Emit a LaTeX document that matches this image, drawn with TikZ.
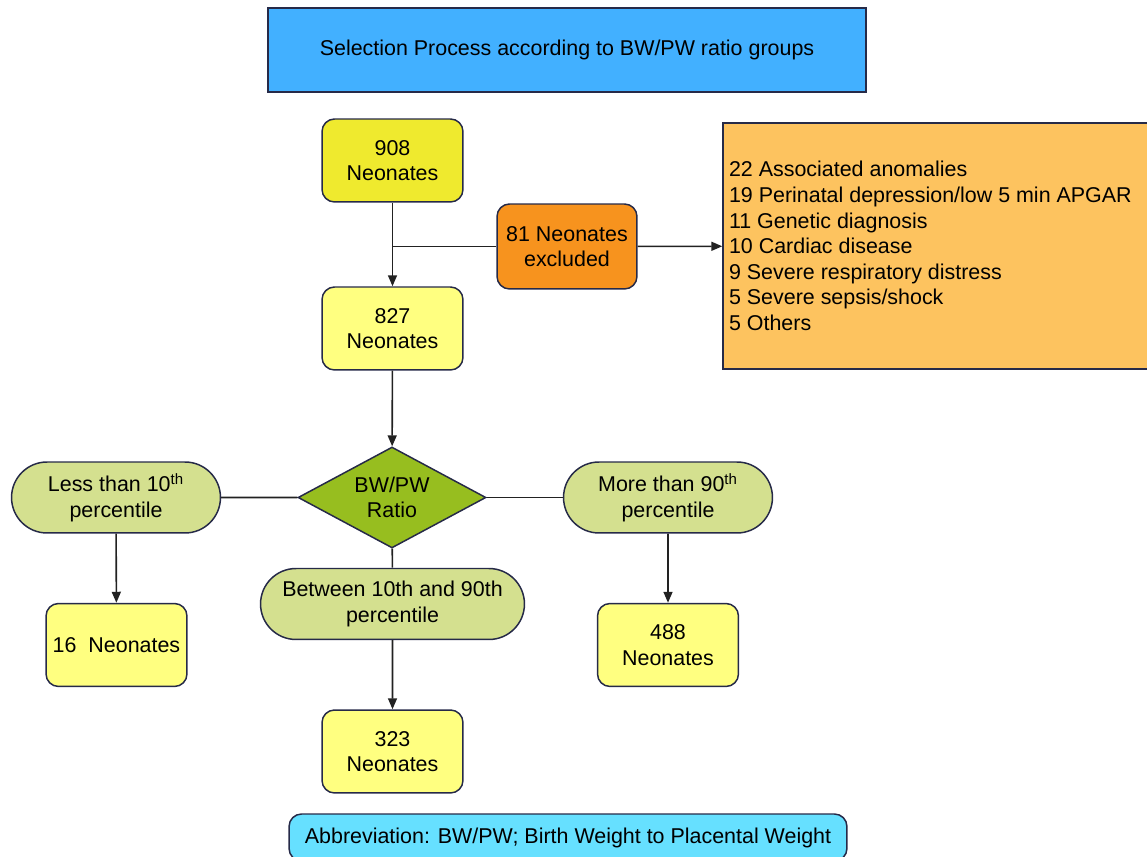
\documentclass[tikz,border=0pt]{standalone}
\usepackage{fontspec}
\setmainfont{Liberation Sans}
\usetikzlibrary{arrows.meta,shapes.geometric,shapes.misc}

\definecolor{edge}{HTML}{262A48}
\definecolor{wire}{HTML}{222222}
\definecolor{titleblue}{HTML}{42B0FF}
\definecolor{startyellow}{HTML}{EFEA2E}
\definecolor{paleyellow}{HTML}{FFFF80}
\definecolor{exclorange}{HTML}{F7931E}
\definecolor{reasonorange}{HTML}{FDC35F}
\definecolor{ratiogreen}{HTML}{97BE1F}
\definecolor{pillgreen}{HTML}{D4E08F}
\definecolor{abbrcyan}{HTML}{66E0FF}
\newcommand{\fs}{\fontsize{12.2}{14.6}\selectfont}

\begin{document}
\begin{tikzpicture}[x=0.02cm,y=-0.02cm,line width=0.85pt,>={Triangle[length=2.2mm,width=1.8mm]},
   box/.style={draw=edge,rounded corners=2.5mm,align=center,font=\fs,minimum width=2.82cm,minimum height=1.66cm,inner sep=2pt},
   pill/.style={draw=edge,rounded rectangle,fill=pillgreen,align=center,font=\fs,minimum height=1.42cm,inner sep=2pt},
   wire/.style={draw=wire,line width=0.9pt}]
  \useasboundingbox (0,0) rectangle (1147,857);
  \node[draw=edge,fill=titleblue,font=\fs,minimum width=11.96cm,minimum height=1.68cm] (title) at (567,50) {Selection Process according to BW/PW ratio groups};
  \node[box,fill=startyellow] (n908) at (392.5,160.5) {908\\Neonates};
  \node[box,fill=paleyellow] (n827) at (392.5,328.5) {827\\Neonates};
  \node[box,fill=exclorange,minimum width=2.8cm,minimum height=1.7cm] (excl) at (567,246.5) {81 Neonates\\excluded};
  \node[draw=edge,fill=reasonorange,font=\fs,align=flush left,minimum width=8.6cm,minimum height=4.92cm,text width=8.36cm,inner xsep=0.12cm] (why) at (938,246)
     {22 Associated anomalies\\19 Perinatal depression/low 5 min APGAR\\11 Genetic diagnosis\\10 Cardiac disease\\9 Severe respiratory distress\\5 Severe sepsis/shock\\5 Others};
  \node[diamond,aspect=1.86,draw=edge,fill=ratiogreen,align=center,font=\fs,minimum width=3.76cm,minimum height=2.02cm,inner sep=0pt] (ratio) at (392,497.5) {BW/PW\\Ratio};
  \node[pill,minimum width=4.32cm] (low) at (116,497.5) {Less than 10\textsuperscript{th}\\percentile};
  \node[pill,minimum width=4.32cm] (high) at (668,497.5) {More than 90\textsuperscript{th}\\percentile};
  \node[pill,minimum width=5.42cm] (mid) at (392.5,604) {Between 10th and 90th\\percentile};
  \node[box,fill=paleyellow] (n16) at (116.5,645) {16\ \ Neonates};
  \node[box,fill=paleyellow] (n488) at (668,645) {488\\Neonates};
  \node[box,fill=paleyellow] (n323) at (392.5,751.5) {323\\Neonates};
  \node[draw=edge,fill=abbrcyan,rounded corners=2.5mm,font=\fs,minimum width=11.16cm,minimum height=0.94cm] (abbr) at (568,837.5) {Abbreviation: BW/PW; Birth Weight to Placental Weight};
  \coordinate (split) at (392.5,246.5);
  \draw[wire,->] (n908) -- (n827);
  \draw[wire] (split) -- (excl);
  \draw[wire,->] (excl) -- (why);
  \draw[wire,->] (n827) -- (ratio);
  \draw[wire] (ratio) -- (low);
  \draw[wire] (ratio) -- (high);
  \draw[wire] (ratio) -- (mid);
  \draw[wire,->] (low) -- (n16);
  \draw[wire,->] (high) -- (n488);
  \draw[wire,->] (mid) -- (n323);
\end{tikzpicture}
\end{document}
